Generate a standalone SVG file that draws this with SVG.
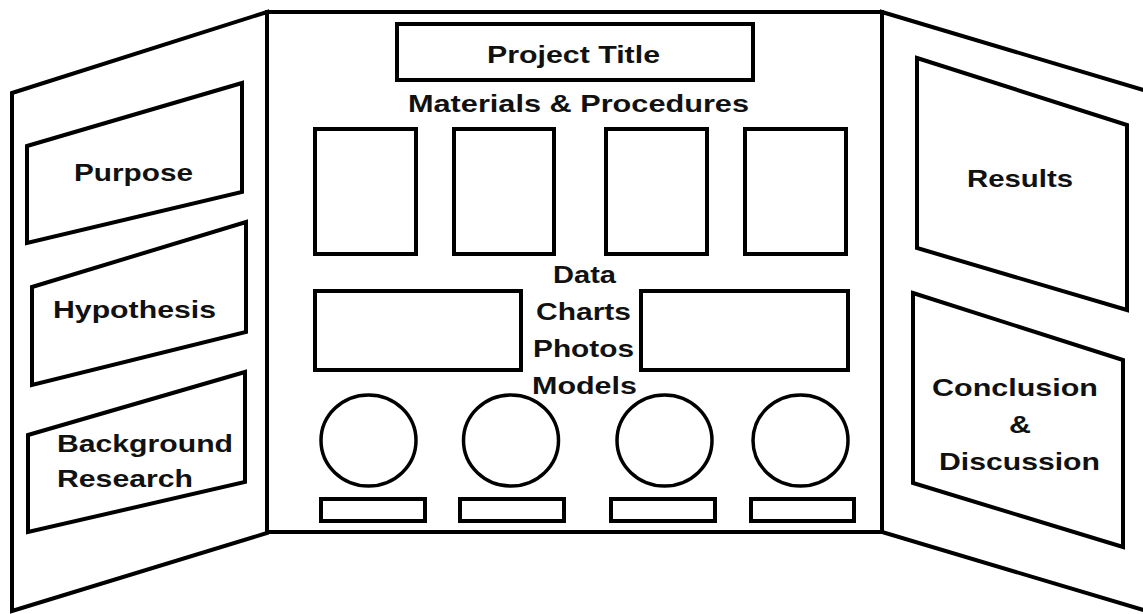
<svg xmlns="http://www.w3.org/2000/svg" width="1143" height="614" viewBox="0 0 1143 614">
<style>
.ln{fill:none;stroke:#000;stroke-width:4;stroke-linejoin:miter}
.bx{fill:#fff;stroke:#000;stroke-width:4}
.ci{fill:#fff;stroke:#000;stroke-width:3.5}
.t{font-family:"Liberation Sans",Arial,sans-serif;font-weight:bold;font-size:24px;fill:#111}
</style>
<rect width="1143" height="614" fill="#fff"/>
<g id="left-panel">
<polygon class="ln" points="12,93 267,12 267,533 12,611"/>
</g>
<g id="center-panel">
<rect class="ln" x="267" y="12" width="615" height="520"/>
</g>
<g id="right-panel">
<polyline class="ln" points="1150,92 882,12 882,532 1150,612"/>
</g>
<g id="purpose">
<polygon class="bx" points="27,146 242,83 242,192 27,243"/>
<text class="t" x="74" y="181" textLength="119" lengthAdjust="spacingAndGlyphs">Purpose</text>
</g>
<g id="hypothesis">
<polygon class="bx" points="32,287 246,222 246,332 32,385"/>
<text class="t" x="53" y="318" textLength="163" lengthAdjust="spacingAndGlyphs">Hypothesis</text>
</g>
<g id="background-research">
<polygon class="bx" points="28,435 245,372 245,482 28,532"/>
<text class="t" x="57" y="452" textLength="176" lengthAdjust="spacingAndGlyphs">Background</text>
<text class="t" x="57" y="487" textLength="136" lengthAdjust="spacingAndGlyphs">Research</text>
</g>
<g id="project-title">
<rect class="bx" x="397" y="24" width="356" height="56"/>
<text class="t" x="487" y="63" textLength="173" lengthAdjust="spacingAndGlyphs">Project Title</text>
</g>
<g id="materials-procedures">
<text class="t" x="408" y="112" textLength="341" lengthAdjust="spacingAndGlyphs">Materials &amp; Procedures</text>
<rect class="bx" x="315" y="129" width="101" height="125"/>
<rect class="bx" x="454" y="129" width="100" height="125"/>
<rect class="bx" x="606" y="129" width="101" height="125"/>
<rect class="bx" x="745" y="129" width="101" height="125"/>
</g>
<g id="data-charts">
<rect class="bx" x="315" y="291" width="206" height="79"/>
<rect class="bx" x="641" y="291" width="207" height="79"/>
<text class="t" x="553" y="283" textLength="63" lengthAdjust="spacingAndGlyphs">Data</text>
<text class="t" x="536" y="320" textLength="95" lengthAdjust="spacingAndGlyphs">Charts</text>
<text class="t" x="533" y="357" textLength="101" lengthAdjust="spacingAndGlyphs">Photos</text>
<text class="t" x="532" y="394" textLength="105" lengthAdjust="spacingAndGlyphs">Models</text>
</g>
<g id="models">
<ellipse class="ci" cx="368.5" cy="440.5" rx="47.5" ry="45.5"/>
<ellipse class="ci" cx="511" cy="440.5" rx="47.5" ry="45.5"/>
<ellipse class="ci" cx="664.5" cy="440.5" rx="47.5" ry="45.5"/>
<ellipse class="ci" cx="800.5" cy="440.5" rx="47.5" ry="45.5"/>
<rect class="bx" x="321" y="499" width="104" height="22"/>
<rect class="bx" x="460" y="499" width="104" height="22"/>
<rect class="bx" x="611" y="499" width="104" height="22"/>
<rect class="bx" x="751" y="499" width="103" height="22"/>
</g>
<g id="results">
<polygon class="bx" points="917,58 1127,125 1127,310 917,248"/>
<text class="t" x="967" y="187" textLength="106" lengthAdjust="spacingAndGlyphs">Results</text>
</g>
<g id="conclusion">
<polygon class="bx" points="913,293 1123,360 1123,547 913,483"/>
<text class="t" x="932" y="396" textLength="166" lengthAdjust="spacingAndGlyphs">Conclusion</text>
<text class="t" x="1009" y="433" textLength="22" lengthAdjust="spacingAndGlyphs">&amp;</text>
<text class="t" x="939" y="470" textLength="161" lengthAdjust="spacingAndGlyphs">Discussion</text>
</g>
<g id="connectors"></g>
</svg>
